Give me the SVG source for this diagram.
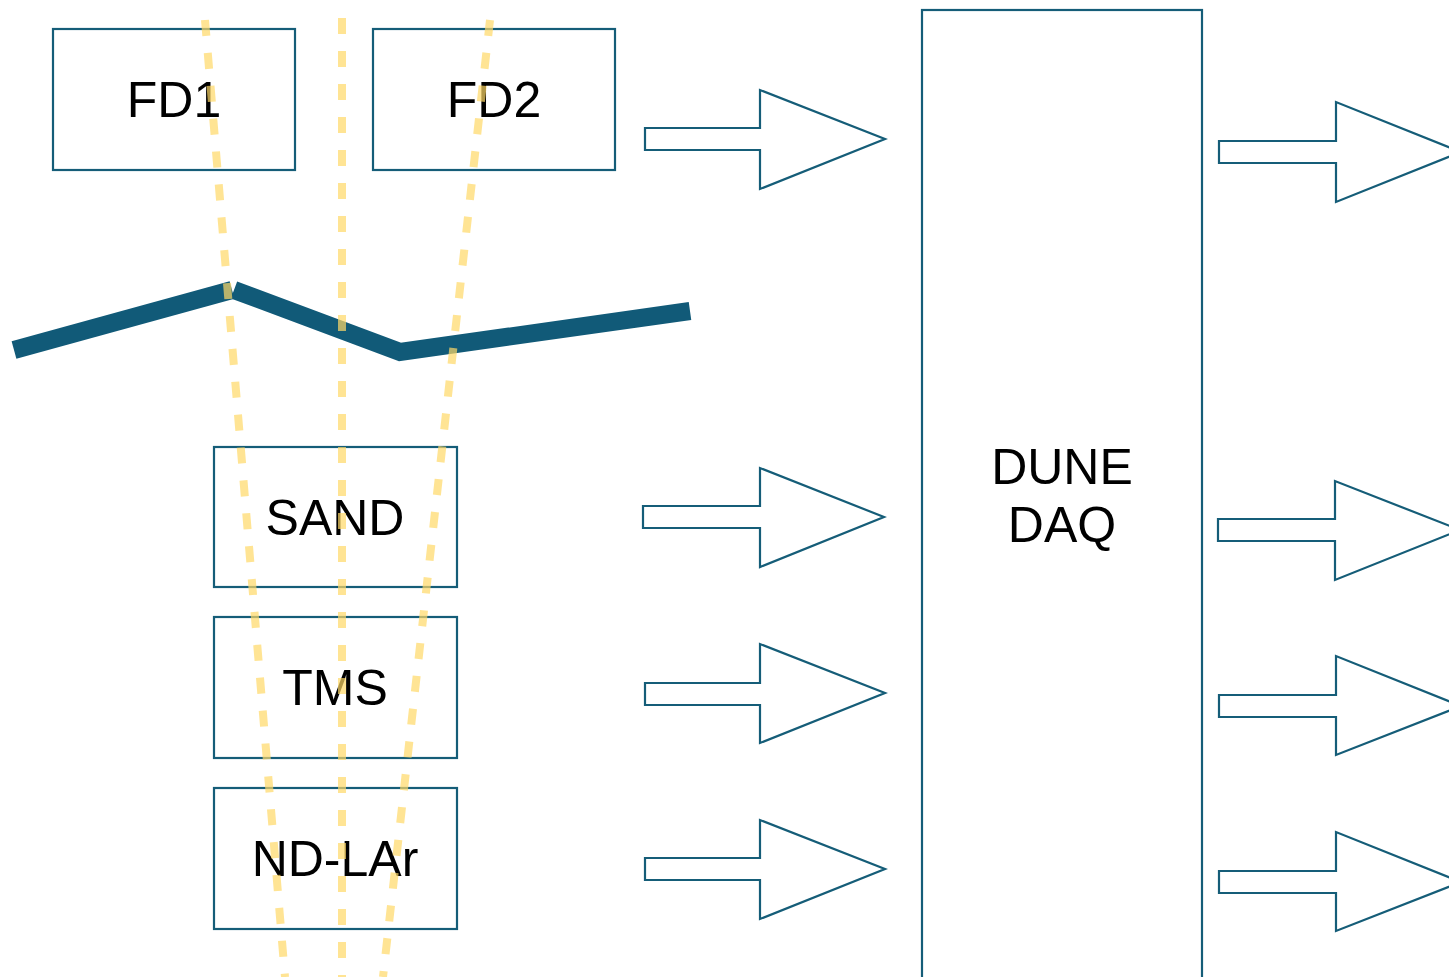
<svg xmlns="http://www.w3.org/2000/svg" width="1449" height="977" viewBox="0 0 1449 977">
<style>
.box{fill:#ffffff;stroke:#155d78;stroke-width:2.2}
.arr{fill:#ffffff;stroke:#155d78;stroke-width:2.2;stroke-linejoin:miter}
.lbl{font-family:"Liberation Sans",Arial,sans-serif;font-size:50px;fill:#000000;text-anchor:middle}
.beam{fill:none;stroke:#ffd966;stroke-opacity:0.7;stroke-width:8;stroke-dasharray:16 17}
.ground{fill:none;stroke:#115a78;stroke-width:18;stroke-linecap:butt;stroke-linejoin:miter}
</style>
<rect width="1449" height="977" fill="#ffffff"/>
<g id="FD1"><rect class="box" x="53" y="29" width="242" height="141"/><text class="lbl" x="174" y="117">FD1</text></g>
<g id="FD2"><rect class="box" x="373" y="29" width="242" height="141"/><text class="lbl" x="494" y="117">FD2</text></g>
<g id="SAND"><rect class="box" x="214" y="447" width="243" height="140"/><text class="lbl" x="335" y="535">SAND</text></g>
<g id="TMS"><rect class="box" x="214" y="617" width="243" height="141"/><text class="lbl" x="335" y="705">TMS</text></g>
<g id="NDLAr"><rect class="box" x="214" y="788" width="243" height="141"/><text class="lbl" x="335" y="876">ND-LAr</text></g>
<g id="DAQ"><rect class="box" x="922" y="10" width="280" height="990"/><text class="lbl" x="1062" y="484">DUNE</text><text class="lbl" x="1062" y="542">DAQ</text></g>
<g id="ground">
<polyline class="ground" points="14,350 232,290"/>
<polyline class="ground" points="234,290 400,352 690,311"/>
</g>
<g id="connectors">
<polygon class="arr" points="645,128 760,128 760,90 885,139 760,189 760,150 645,150"/>
<polygon class="arr" points="643,506 760,506 760,468 884,517 760,567 760,528 643,528"/>
<polygon class="arr" points="645,683 760,683 760,644 885,693 760,743 760,705 645,705"/>
<polygon class="arr" points="645,858 760,858 760,820 885,869 760,919 760,880 645,880"/>
<polygon class="arr" points="1219,141 1336,141 1336,102 1461,152 1336,202 1336,163 1219,163"/>
<polygon class="arr" points="1218,519 1335,519 1335,481 1460,530 1335,580 1335,541 1218,541"/>
<polygon class="arr" points="1219,695 1336,695 1336,656 1461,706 1336,755 1336,717 1219,717"/>
<polygon class="arr" points="1219,871 1336,871 1336,832 1461,882 1336,931 1336,893 1219,893"/>
</g>
<g id="beams">
<line class="beam" x1="205" y1="20" x2="285" y2="977"/>
<line class="beam" x1="342" y1="18" x2="342" y2="977"/>
<line class="beam" x1="490" y1="20" x2="383" y2="977"/>
</g>
</svg>
